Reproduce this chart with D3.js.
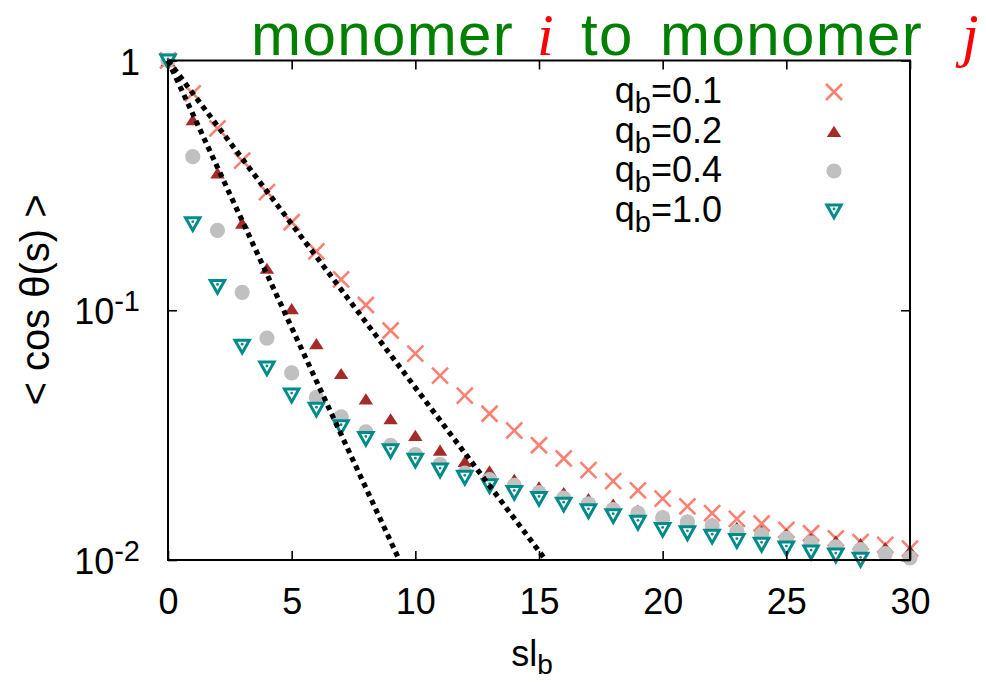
<!DOCTYPE html>
<html>
<head>
<meta charset="utf-8">
<script src="https://cdn.jsdelivr.net/npm/d3@7"></script>
<style>
  html, body { margin: 0; padding: 0; background: #fff; }
  svg { display: block; font-family: "Liberation Sans", Arial, sans-serif; }
</style>
</head>
<body>
<svg id="chart" width="986" height="682"></svg>
<script>
// Contour separation s (in units of l_b)
const sValues = [0,1,2,3,4,5,6,7,8,9,10,11,12,13,14,15,16,17,18,19,20,21,22,23,24,25,26,27,28,29,30];

// <cos θ(s)> for each bending stiffness q_b
const q01 = [1, 0.739, 0.535, 0.397, 0.297, 0.225, 0.172, 0.133, 0.105, 0.083, 0.067, 0.0547, 0.0455, 0.0385, 0.033, 0.0288, 0.0255, 0.0229, 0.0207, 0.019, 0.0176, 0.0164, 0.0154, 0.0146, 0.014, 0.0132, 0.0128, 0.0122, 0.0118, 0.0115, 0.0111];
const q02 = [1, 0.578, 0.354, 0.223, 0.147, 0.1014, 0.0734, 0.0557, 0.0441, 0.0367, 0.0315, 0.0275, 0.0248, 0.0227, 0.021, 0.0196, 0.0186, 0.0176, 0.0167, 0.0158, 0.0151, 0.0145, 0.014, 0.0135, 0.0131, 0.0127, 0.0122, 0.0119, 0.0116, 0.0112, 0.0109];
const q04 = [1, 0.412, 0.209, 0.118, 0.0774, 0.0561, 0.0448, 0.0374, 0.0326, 0.0288, 0.0264, 0.0241, 0.0223, 0.021, 0.0199, 0.0186, 0.0177, 0.0168, 0.0159, 0.0154, 0.0148, 0.0142, 0.0137, 0.013, 0.0126, 0.0122, 0.0117, 0.0113, 0.011, 0.0106, 0.0102];
const q10 = [1, 0.223, 0.125, 0.0721, 0.059, 0.0459, 0.0403, 0.0343, 0.0308, 0.0275, 0.0252, 0.023, 0.0215, 0.0199, 0.0187, 0.0177, 0.0168, 0.0158, 0.0151, 0.0142, 0.0133, 0.0129, 0.0125, 0.012, 0.0116, 0.0112, 0.0108, 0.0105, 0.0101];

const seriesLabels = ["0.1", "0.2", "0.4", "1.0"];

// Exponential guide lines (straight on the log axis): [s, value] end points
const guideSteep = [[0, 1], [9.35, 0.01]];
const guideShallow = [[0, 1], [15.27, 0.01]];

// Axis ticks
const xTicks = [0, 5, 10, 15, 20, 25, 30];
const yTicks = [1, 0.1, 0.01];
const yTickExp = ["", "-1", "-2"];

const svg = d3.select("#chart");
const plotLeft = 168, plotRight = 910, plotTop = 60.5, plotBottom = 560;

const x = d3.scaleLinear().domain([0, 30]).range([plotLeft, plotRight]);
const y = d3.scaleLog().domain([0.01, 1]).range([plotBottom, plotTop]);

// ---- markers ----
const markerDefs = [
  { values: q01, draw: g => g.append("path").attr("d", "M-8,-8L8,8M-8,8L8,-8")
      .attr("stroke", "#fa8072").attr("stroke-width", 2.6).attr("fill", "none") },
  { values: q02, draw: g => g.append("path").attr("d", "M0,-5.8L7.2,5.4L-7.2,5.4Z")
      .attr("fill", "#a52a2a") },
  { values: q04, draw: g => g.append("circle").attr("r", 7.6).attr("fill", "#c0c0c0") },
  { values: q10, draw: g => {
      g.append("path").attr("d", "M-7.2,-5.6L7.2,-5.6L0,7.2Z")
        .attr("fill", "#fff").attr("stroke", "#008b8b").attr("stroke-width", 3)
        .attr("stroke-linejoin", "miter");
      g.append("circle").attr("cx", 0).attr("cy", -1.6).attr("r", 1.4).attr("fill", "#008b8b");
    } }
];

const plotG = svg.append("g");
markerDefs.forEach(def => {
  const pts = def.values.map((v, i) => ({ s: sValues[i], v }));
  plotG.append("g").selectAll("g").data(pts).join("g")
    .attr("transform", d => `translate(${x(d.s)},${y(d.v)})`)
    .each(function () { def.draw(d3.select(this)); });
});

// ---- dotted guide lines ----
const line = d3.line().x(d => x(d[0])).y(d => y(d[1]));
[guideSteep, guideShallow].forEach(g => {
  plotG.append("path").attr("d", line(g))
    .attr("fill", "none").attr("stroke", "#000").attr("stroke-width", 5.2)
    .attr("stroke-dasharray", "5,4.5");
});

// ---- axes (inward ticks, mirrored) ----
const axisStyle = sel => {
  sel.select(".domain").remove();
  sel.selectAll(".tick line").attr("stroke", "#000").attr("stroke-width", 1.6);
};
svg.append("g").attr("transform", `translate(0,${plotBottom})`)
  .call(d3.axisBottom(x).tickValues(xTicks).tickSize(-9).tickPadding(28))
  .call(axisStyle)
  .call(g => g.selectAll(".tick text").attr("font-size", 36).attr("fill", "#000")
    .attr("font-family", "Liberation Sans, Arial, sans-serif"));
svg.append("g").attr("transform", `translate(0,${plotTop})`)
  .call(d3.axisTop(x).tickValues(xTicks).tickSize(-9).tickFormat(""))
  .call(axisStyle);
svg.append("g").attr("transform", `translate(${plotLeft},0)`)
  .call(d3.axisLeft(y).tickValues(yTicks).tickSize(-9).tickFormat(""))
  .call(axisStyle);
svg.append("g").attr("transform", `translate(${plotRight},0)`)
  .call(d3.axisRight(y).tickValues(yTicks).tickSize(-9).tickFormat(""))
  .call(axisStyle);

// y tick labels with superscript exponents
yTicks.forEach((t, i) => {
  const txt = svg.append("text").attr("x", 140).attr("y", y(t) + 14)
    .attr("text-anchor", "end").attr("font-size", 36).attr("fill", "#000");
  if (yTickExp[i] === "") {
    txt.text("1");
  } else {
    txt.append("tspan").text("10");
    txt.append("tspan").attr("font-size", 29).attr("dy", -13).text(yTickExp[i]);
  }
});

// frame
svg.append("rect").attr("x", plotLeft).attr("y", plotTop)
  .attr("width", plotRight - plotLeft).attr("height", plotBottom - plotTop)
  .attr("fill", "none").attr("stroke", "#000").attr("stroke-width", 2);

// ---- axis titles ----
const xl = svg.append("text").attr("x", 532).attr("y", 666)
  .attr("text-anchor", "middle").attr("font-size", 36).attr("fill", "#000");
xl.append("tspan").text("sl");
xl.append("tspan").attr("font-size", 28).attr("dy", 8).text("b");

svg.append("text").attr("transform", "translate(49,300) rotate(-90)")
  .attr("text-anchor", "middle").attr("font-size", 40).attr("fill", "#000")
  .text("< cos θ(s) >");

// ---- legend ----
const legendRowY = [92, 131.5, 171, 210.5];
legendRowY.forEach((ry, i) => {
  const t = svg.append("text").attr("x", 722).attr("y", ry + 11)
    .attr("text-anchor", "end").attr("font-size", 36).attr("fill", "#000");
  t.append("tspan").text("q");
  t.append("tspan").attr("font-size", 29).attr("dy", 10).text("b");
  t.append("tspan").attr("dy", -10).text("=" + seriesLabels[i]);
  const mg = svg.append("g").attr("transform", `translate(834,${ry})`);
  markerDefs[i].draw(mg);
});

// ---- title ----
const titleParts = [
  { text: "monomer", x: 251, color: "#008000", italic: false },
  { text: "i", x: 537, color: "#ff0000", italic: true },
  { text: "to", x: 581, color: "#008000", italic: false },
  { text: "monomer", x: 660, color: "#008000", italic: false },
  { text: "j", x: 962, color: "#ff0000", italic: true }
];
const title = svg.append("text").attr("y", 55).attr("font-size", 60);
titleParts.forEach(p => {
  title.append("tspan").attr("x", p.x).attr("fill", p.color)
    .attr("font-family", p.italic ? "Liberation Serif, Times New Roman, serif" : "Liberation Sans, Arial, sans-serif")
    .attr("font-style", p.italic ? "italic" : "normal")
    .attr("letter-spacing", p.italic ? 0 : 1.4)
    .text(p.text);
});
</script>
</body>
</html>
